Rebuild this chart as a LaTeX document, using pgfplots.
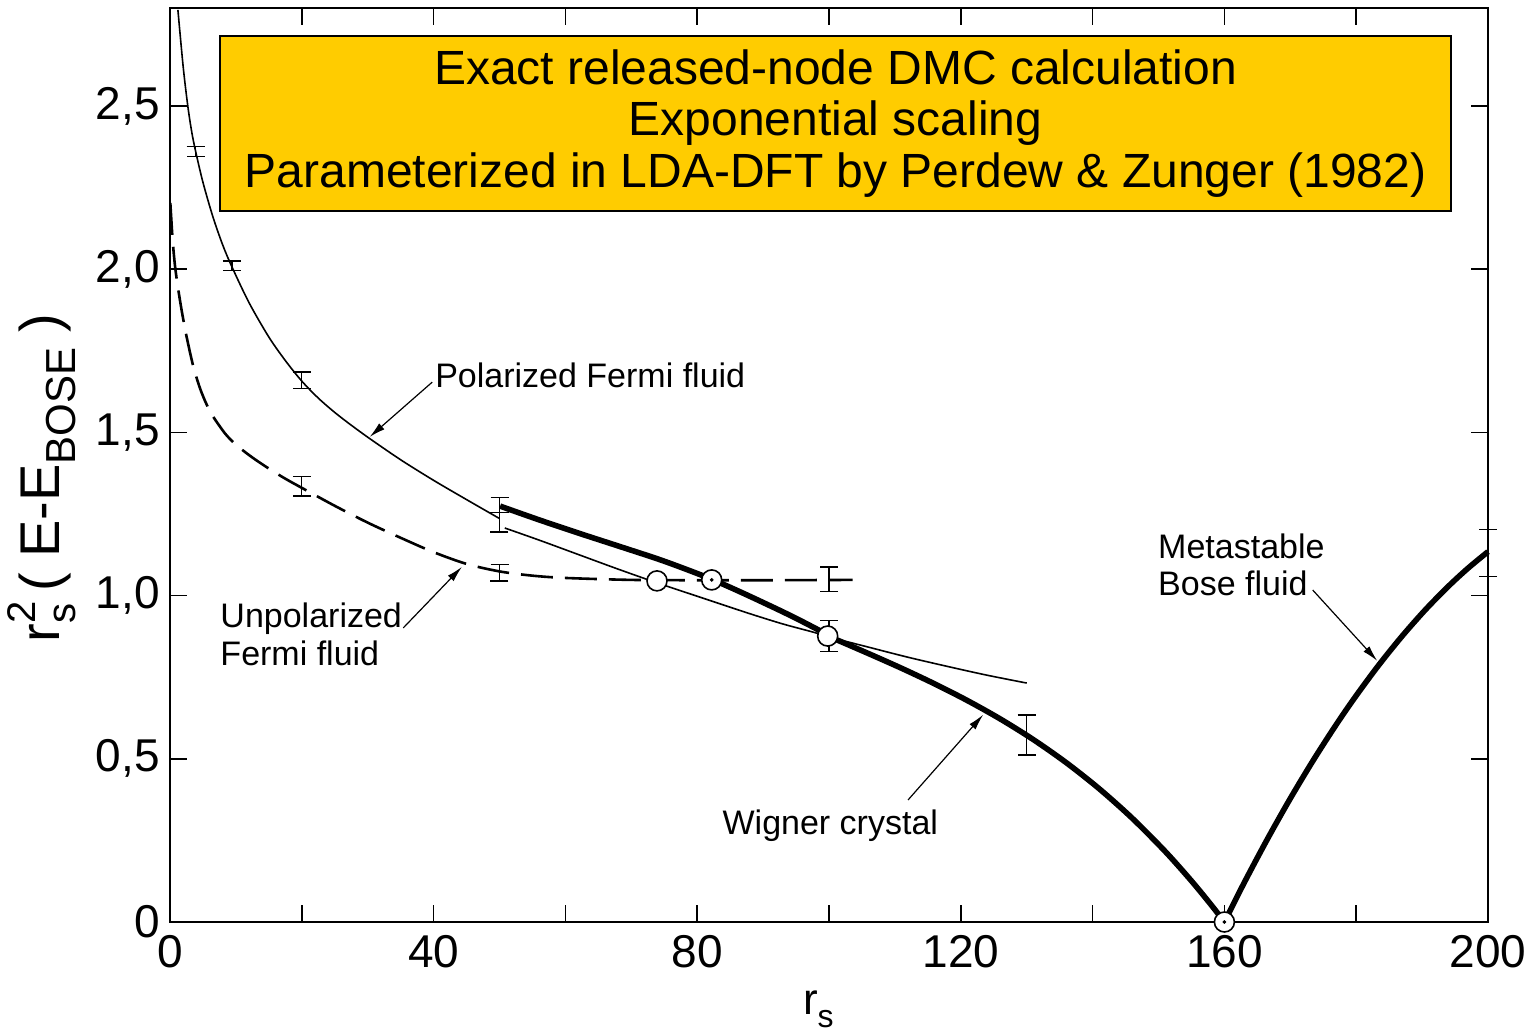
\documentclass[border=0pt]{standalone}
\usepackage{pgfplots}
\pgfplotsset{compat=1.18}
\usepackage{fontspec}
\setmainfont{Liberation Sans}
\usetikzlibrary{arrows.meta}
\definecolor{boxyellow}{HTML}{FFCC00}

\pgfplotstableread{
x y
1.2 2.794
2.0 2.62
2.7 2.50
3.3 2.42
3.9 2.36
5.0 2.266
6.5 2.161
8.0 2.074
9.4 2.007
12 1.897
15 1.792
17.5 1.720
20 1.657
22.5 1.605
25 1.561
27.5 1.522
30.3 1.481
35 1.416
40 1.353
45 1.294
50 1.236
}\polA

\pgfplotstableread{
x y
50.8 1.207
56 1.170
62.2 1.124
68 1.081
73.9 1.039
80 0.998
87.6 0.947
93 0.913
97.6 0.888
101 0.868
105.8 0.843
112 0.811
118.4 0.781
124 0.756
130 0.732
}\polB

\pgfplotstableread{
x y
0.05 2.203
0.4 2.09
0.76 2.01
1.2 1.945
1.8 1.87
2.5 1.795
3.5 1.705
4.5 1.638
5.5 1.588
6.5 1.55
7.5 1.52
8.5 1.493
10 1.462
12.5 1.423
15 1.389
17.5 1.358
20 1.330
25 1.275
30 1.2235
35 1.177
40 1.133
45 1.097
50 1.074
55 1.061
60 1.054
70 1.048
80 1.047
90 1.047
103.6 1.048
}\unpol

\pgfplotstableread{
x y
50.1 1.274
56 1.232
62.2 1.190
68 1.152
73.9 1.113
78 1.083
82.2 1.050
87 1.007
92.6 0.954
96 0.920
99.8 0.880
}\wigA

\pgfplotstableread{
x y
101 0.866
106 0.8223
111 0.7774
116 0.7298
121 0.6784
126 0.6219
131 0.5589
136 0.4881
141 0.4083
146 0.3182
151 0.2165
155 0.1259
158 0.0522
160 0
}\wigB

\pgfplotstableread{
x y
160 0
163 0.1202
166.5 0.2531
170 0.3784
173.5 0.4959
177 0.6057
180 0.6936
183.5 0.7890
187 0.8766
190.5 0.9566
194 1.0287
197 1.0844
200 1.1344
}\bose

\pgfplotstableread{
x y e
3.9 2.36 0.015
9.4 2.01 0.015
20 1.66 0.025
50 1.225 0.03
20 1.335 0.03
50 1.07 0.025
100 1.05 0.038
50 1.278 0.023
100 0.876 0.048
130 0.573 0.061
200 1.13 0.072
}\errs

\pgfplotstableread{
x y
73.9 1.045
82.2 1.048
99.8 0.876
160 0
}\circs

\begin{document}
\begin{tikzpicture}
\path[use as bounding box] (-85pt,-56pt) rectangle (684pt,461pt);
\begin{axis}[
  anchor=south west, at={(0pt,0pt)},
  scale only axis, width=659pt, height=457pt,
  xmin=0, xmax=200, ymin=0, ymax=2.8,
  axis line style={line width=1pt},
  xtick={0,20,...,200},
  xticklabels={0,,40,,80,,120,,160,,200},
  ytick={0,0.5,1,1.5,2,2.5},
  yticklabels={0,{0,5},{1,0},{1,5},{2,0},{2,5}},
  tick align=inside,
  major tick length=8.5pt,
  tick style={line width=0.8pt, black},
  /pgf/number format/assume math mode=true,
  every tick label/.append style={font=\fontsize{23}{23}\selectfont, inner sep=0pt},
  xticklabel style={yshift=-6.5pt},
  yticklabel style={xshift=-5pt},
  clip=false,
]
% curves
\addplot[black, line width=0.8pt, smooth] table {\polA};
\addplot[black, line width=0.8pt, smooth] table {\polB};
\addplot[black, line width=1.3pt, smooth, dash pattern=on 16pt off 6pt] table {\unpol};
\addplot[black, line width=2.8pt, smooth] table {\wigA};
\addplot[black, line width=2.8pt, smooth] table {\wigB};
\addplot[black, line width=2.8pt, smooth] table {\bose};
% error bars
\addplot[draw=none, mark=none, error bars/.cd, y dir=both, y explicit,
  error bar style={line width=0.7pt, draw=black, solid},
  error mark options={rotate=90, mark size=4.5pt, line width=0.7pt, draw=black}]
  table[x=x, y=y, y error=e] {\errs};
% open circles
\addplot[only marks, mark=*, mark size=5pt, mark options={fill=white, draw=black, line width=0.8pt}] table {\circs};
\addplot[only marks, mark=*, mark size=0.7pt, black] coordinates {(82.2,1.048) (160,0)};

% annotations
\node[anchor=base west, inner sep=0pt, font=\fontsize{17}{17}\selectfont] at (axis cs:40.2,1.636) {Polarized Fermi fluid};
\draw[-{Latex[length=8pt,width=4pt]}, line width=0.6pt] (axis cs:39.8,1.654) -- (axis cs:30.3,1.486);
\node[anchor=base west, inner sep=0pt, font=\fontsize{17}{17}\selectfont] at (axis cs:7.6,0.901) {Unpolarized};
\node[anchor=base west, inner sep=0pt, font=\fontsize{17}{17}\selectfont] at (axis cs:7.6,0.787) {Fermi fluid};
\draw[-{Latex[length=8pt,width=4pt]}, line width=0.6pt] (axis cs:35.4,0.901) -- (axis cs:44.3,1.088);
\node[anchor=base west, inner sep=0pt, font=\fontsize{17}{17}\selectfont] at (axis cs:83.8,0.267) {Wigner crystal};
\draw[-{Latex[length=8pt,width=4pt]}, line width=0.6pt] (axis cs:112.0,0.374) -- (axis cs:123.4,0.635);
\node[anchor=base west, inner sep=0pt, font=\fontsize{17}{17}\selectfont] at (axis cs:149.9,1.115) {Metastable};
\node[anchor=base west, inner sep=0pt, font=\fontsize{17}{17}\selectfont] at (axis cs:149.9,0.999) {Bose fluid};
\draw[-{Latex[length=8pt,width=4pt]}, line width=0.6pt] (axis cs:173.4,1.017) -- (axis cs:183.2,0.80);

% title box
\node[draw=black, line width=1pt, fill=boxyellow, minimum width=615.5pt, minimum height=87.5pt,
  inner sep=0pt, align=center, font=\fontsize{24}{25.75}\selectfont]
  at (axis cs:101.0,2.446)
  {Exact released-node DMC calculation\\Exponential scaling\\Parameterized in LDA-DFT by Perdew \& Zunger (1982)};

% axis labels
\node[rotate=90, inner sep=0pt, font=\fontsize{28}{28}\selectfont] at ([xshift=-64pt]rel axis cs:0,0.486)
  {r\rlap{\raisebox{-0.3em}{\fontsize{20}{20}\selectfont s}}\raisebox{0.42em}{\fontsize{20}{20}\selectfont 2}\,( E-E\raisebox{-0.3em}{\fontsize{21}{21}\selectfont BOSE} )};
\node[anchor=north west, inner sep=0pt, font=\fontsize{22}{22}\selectfont] at ([yshift=-34pt]rel axis cs:0.48,0)
  {r\raisebox{-0.3em}{\fontsize{16}{16}\selectfont s}};
\end{axis}
\end{tikzpicture}
\end{document}
